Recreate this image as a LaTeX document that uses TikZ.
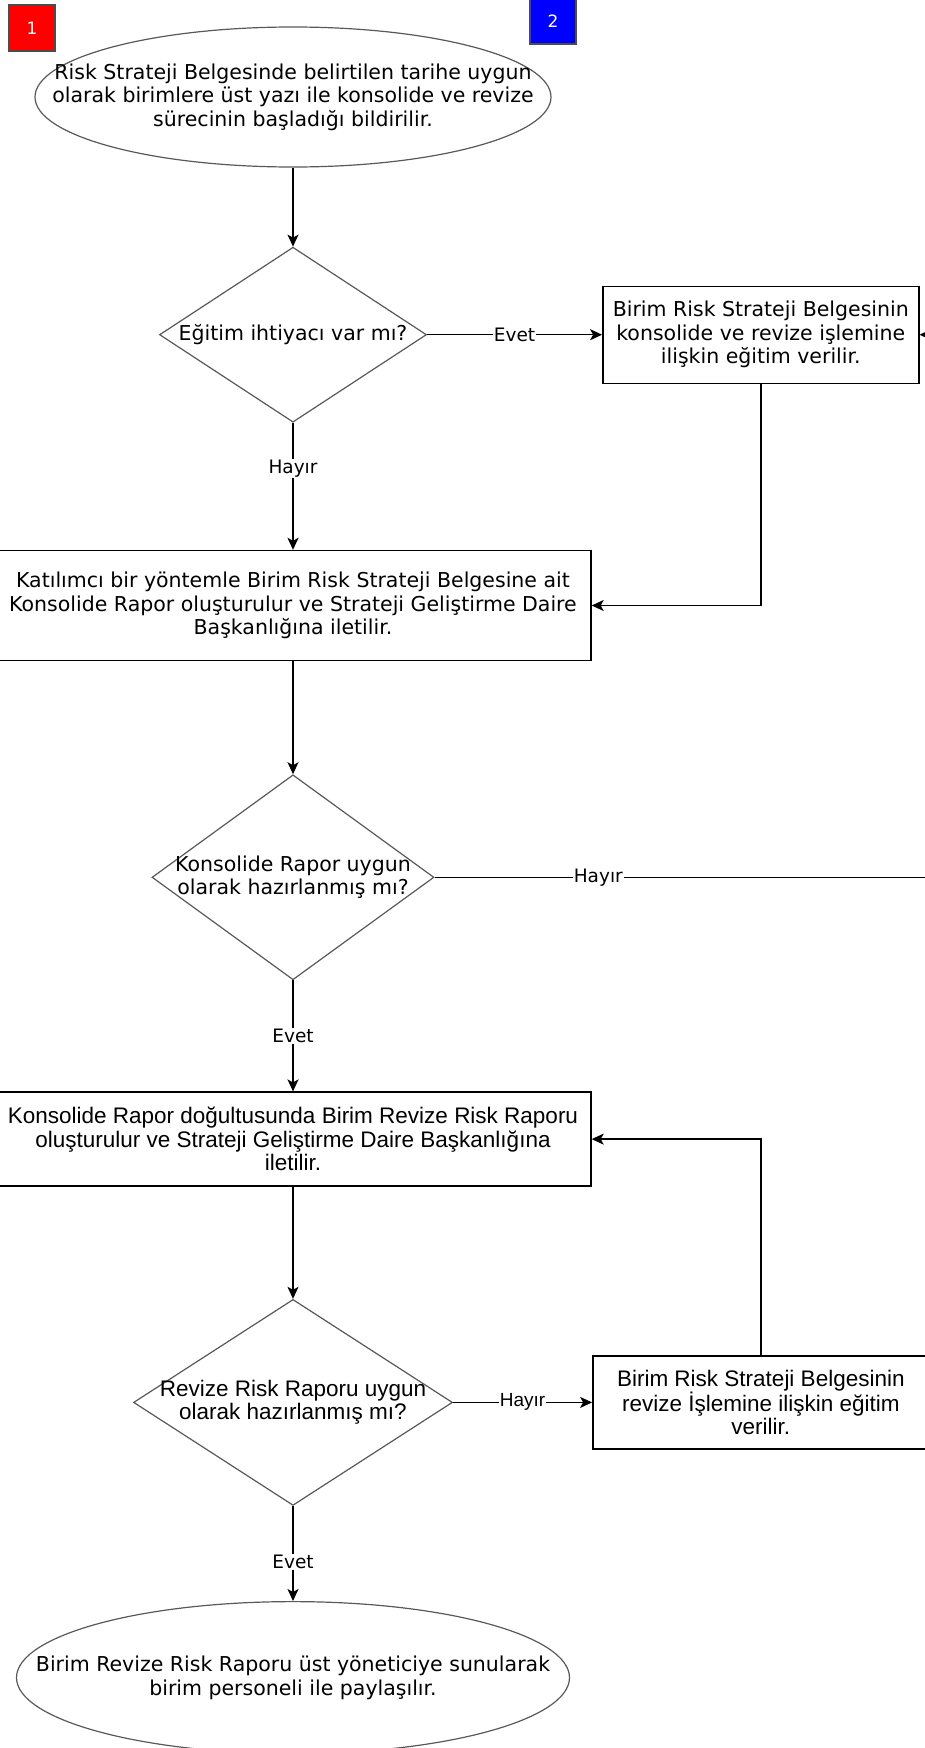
\documentclass[tikz,border=0pt]{standalone}
\usepackage{fontspec}
\setmainfont{DejaVu Sans}
\newfontfamily\narrowfont{Liberation Sans}
\usetikzlibrary{shapes.geometric,arrows.meta,positioning,calc}
\newcommand{\bodysize}{\fontsize{20.5pt}{23.5pt}\selectfont}
\newcommand{\narrowsize}{\narrowfont\fontsize{22.5pt}{23.5pt}\selectfont}
\tikzset{
	terminal/.style={ellipse,draw=black!65,line width=1.2pt,fill=white,inner sep=0pt},
	decision/.style={diamond,draw=black!65,line width=1.2pt,fill=white,inner sep=0pt},
	process/.style={rectangle,draw=black,line width=1.4pt,fill=white,inner sep=0pt,align=center},
	badge/.style={rectangle,draw=black!70,line width=1.2pt,minimum size=46pt,text=white,font=\fontsize{17pt}{18pt}\selectfont},
	flow/.style={line width=1.5pt,-{Stealth[length=12pt,width=11pt,inset=3pt]}},
	tag/.style={fill=white,inner sep=1pt,font=\fontsize{18.5pt}{20pt}\selectfont}
}

\begin{document}
\begin{tikzpicture}[x=1pt,y=-1pt,align=center]
    \useasboundingbox (0,0) rectangle (924,1748);

    \node[terminal,minimum width=516pt,minimum height=140pt] (start) at (293,97) {};
    \node[font=\bodysize] (startt) at (start) {Risk Strateji Belgesinde belirtilen tarihe uygun\\olarak birimlere üst yazı ile konsolide ve revize\\sürecinin başladığı bildirilir.};

    \node[decision,minimum width=267pt,minimum height=175pt,below=79pt of start] (d1) {};
    \node[font=\bodysize] (d1t) at (d1) {Eğitim ihtiyacı var mı?};

    \node[process,minimum width=316pt,minimum height=97pt,right=175pt of d1,font=\bodysize] (box2) {Birim Risk Strateji Belgesinin\\konsolide ve revize işlemine\\ilişkin eğitim verilir.};

    \node[process,minimum width=596pt,minimum height=110pt,below=127pt of d1,font=\bodysize] (box3) {Katılımcı bir yöntemle Birim Risk Strateji Belgesine ait\\Konsolide Rapor oluşturulur ve Strateji Geliştirme Daire\\Başkanlığına iletilir.};

    \node[decision,minimum width=282pt,minimum height=205pt,below=113pt of box3] (d2) {};
    \node[font=\bodysize] (d2t) at (d2) {Konsolide Rapor uygun\\olarak hazırlanmış mı?};

    \node[process,minimum width=596pt,minimum height=94pt,below=111pt of d2,font=\narrowsize] (box4) {Konsolide Rapor doğultusunda Birim Revize Risk Raporu\\oluşturulur ve Strateji Geliştirme Daire Başkanlığına\\iletilir.};

    \node[decision,minimum width=319pt,minimum height=206pt,below=112pt of box4] (d3) {};
    \node[font=\narrowsize] (d3t) at (d3) {Revize Risk Raporu uygun\\olarak hazırlanmış mı?};

    \node[process,minimum width=336pt,minimum height=93pt,right=139pt of d3,font=\narrowsize] (box5) {Birim Risk Strateji Belgesinin\\revize İşlemine ilişkin eğitim\\verilir.};

    \node[terminal,minimum width=553pt,minimum height=152pt,below=95pt of d3] (end) {};
    \node[font=\bodysize] (endt) at (end) {Birim Revize Risk Raporu üst yöneticiye sunularak\\birim personeli ile paylaşılır.};

    % loop back to the training box, leaves the page on the right
    \coordinate[right=528pt of d2.east] (loopr);

    \draw[flow] (start.south) -- (d1.north);
    \draw[flow] (d1.east) -- node[tag]{Evet} (box2.west);
    \draw[flow] (d1.south) -- node[tag,pos=0.36]{Hayır} (box3.north);
    \draw[flow] (box2.south) |- (box3.east);
    \draw[flow] (box3.south) -- (d2.north);
    \draw[flow] (d2.east) -- node[tag,pos=0.31]{Hayır} (loopr) |- (box2.east);
    \draw[flow] (d2.south) -- node[tag]{Evet} (box4.north);
    \draw[flow] (box4.south) -- (d3.north);
    \draw[flow] (d3.east) -- node[tag,font=\narrowfont\fontsize{19pt}{20pt}\selectfont]{Hayır} (box5.west);
    \draw[flow] (box5.north) |- (box4.east);
    \draw[flow] (d3.south) -- node[tag,pos=0.59]{Evet} (end.north);

    \node[badge,fill=red] (b1) at (32,28) {1};
    \node[badge,fill=blue] (b2) at (553,21) {2};
\end{tikzpicture}
\end{document}
